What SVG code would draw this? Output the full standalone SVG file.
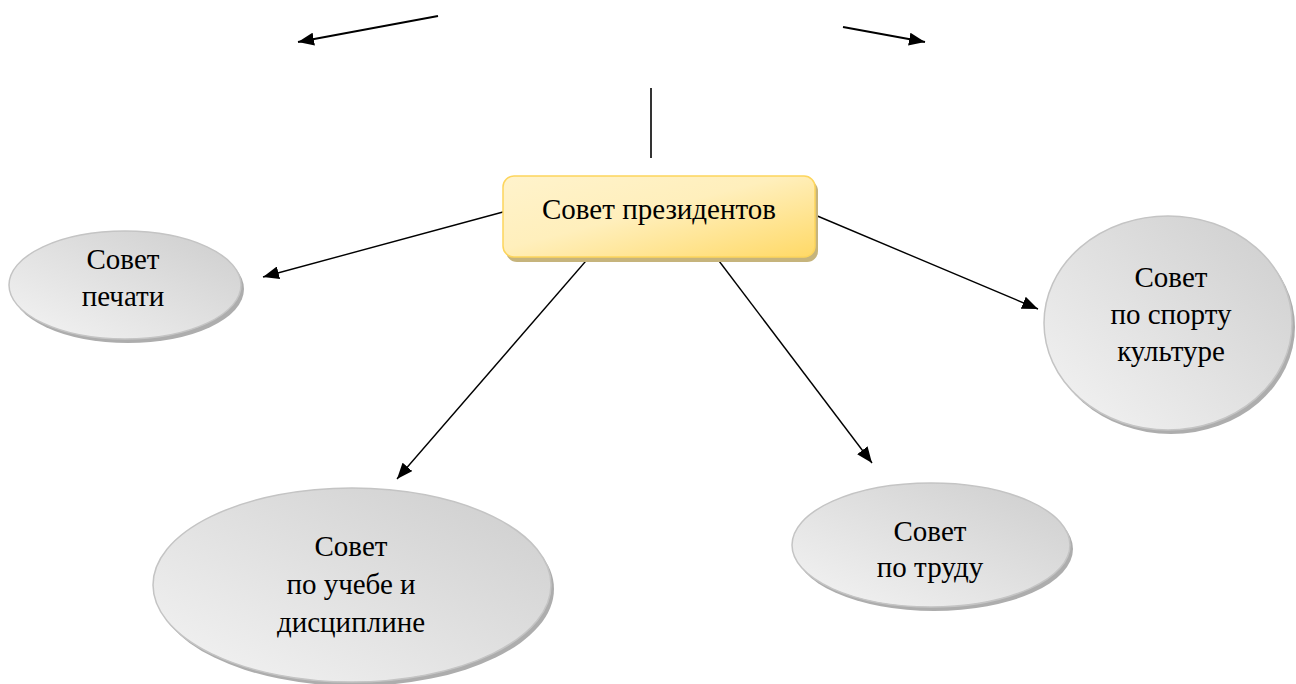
<svg xmlns="http://www.w3.org/2000/svg" width="1296" height="684" viewBox="0 0 1296 684">
<defs>
<linearGradient id="gold" x1="0" y1="0" x2="1" y2="1">
<stop offset="0" stop-color="#fff3cc"/>
<stop offset="0.45" stop-color="#ffefbc"/>
<stop offset="1" stop-color="#ffd966"/>
</linearGradient>
<linearGradient id="grey" x1="1" y1="0" x2="0" y2="1">
<stop offset="0" stop-color="#cdcdcd"/>
<stop offset="1" stop-color="#f4f4f4"/>
</linearGradient>
<marker id="ah" viewBox="0 0 16 13" refX="16" refY="6.5" markerWidth="16" markerHeight="13" markerUnits="userSpaceOnUse" orient="auto">
<path d="M0,0 L16,6.5 L0,13 z" fill="#000"/>
</marker>
</defs>
<style>
.t{font-family:"Liberation Serif","Times New Roman",serif;font-size:29px;fill:#000;text-anchor:middle}
.sh{fill:#adadad}
.el{fill:url(#grey);stroke:#c4c4c4;stroke-width:1.5}
.c{stroke:#000;stroke-width:1.4;fill:none;marker-end:url(#ah)}
</style>
<rect width="1296" height="684" fill="#fff"/>
<g id="connectors">
<line class="c" x1="438" y1="16" x2="298" y2="42" style="stroke-width:2"/>
<line class="c" x1="843" y1="27" x2="925" y2="42" style="stroke-width:2"/>
<line x1="651" y1="88" x2="651" y2="158" stroke="#000" stroke-width="1.6"/>
<line class="c" x1="503" y1="212" x2="263" y2="277"/>
<line class="c" x1="815" y1="215" x2="1038" y2="309"/>
<line class="c" x1="598" y1="247" x2="397" y2="479"/>
<line class="c" x1="716" y1="257" x2="872" y2="463"/>
</g>
<g id="president">
<rect x="506" y="180" width="312" height="82" rx="11" fill="#c6b47c"/>
<rect x="503" y="176" width="312" height="81" rx="11" fill="url(#gold)" stroke="#fdd55c" stroke-width="1.5"/>
<text class="t" x="659" y="219">Совет президентов</text>
</g>
<g id="pechat">
<ellipse class="sh" cx="128" cy="289" rx="116" ry="54"/>
<ellipse class="el" cx="125" cy="285" rx="116" ry="54"/>
<text class="t" x="123" y="269">Совет</text>
<text class="t" x="123" y="306">печати</text>
</g>
<g id="sport">
<ellipse class="sh" cx="1171" cy="327" rx="124" ry="107"/>
<ellipse class="el" cx="1168" cy="323" rx="124" ry="107"/>
<text class="t" x="1171" y="287">Совет</text>
<text class="t" x="1171" y="324">по спорту</text>
<text class="t" x="1171" y="361">культуре</text>
</g>
<g id="ucheba">
<ellipse class="sh" cx="355" cy="589" rx="199" ry="97"/>
<ellipse class="el" cx="352" cy="585" rx="199" ry="97"/>
<text class="t" x="351" y="556">Совет</text>
<text class="t" x="351" y="594">по учебе и</text>
<text class="t" x="351" y="632">дисциплине</text>
</g>
<g id="trud">
<ellipse class="sh" cx="934" cy="549" rx="139" ry="62"/>
<ellipse class="el" cx="931" cy="545" rx="139" ry="62"/>
<text class="t" x="930" y="541">Совет</text>
<text class="t" x="930" y="577">по труду</text>
</g>
</svg>
